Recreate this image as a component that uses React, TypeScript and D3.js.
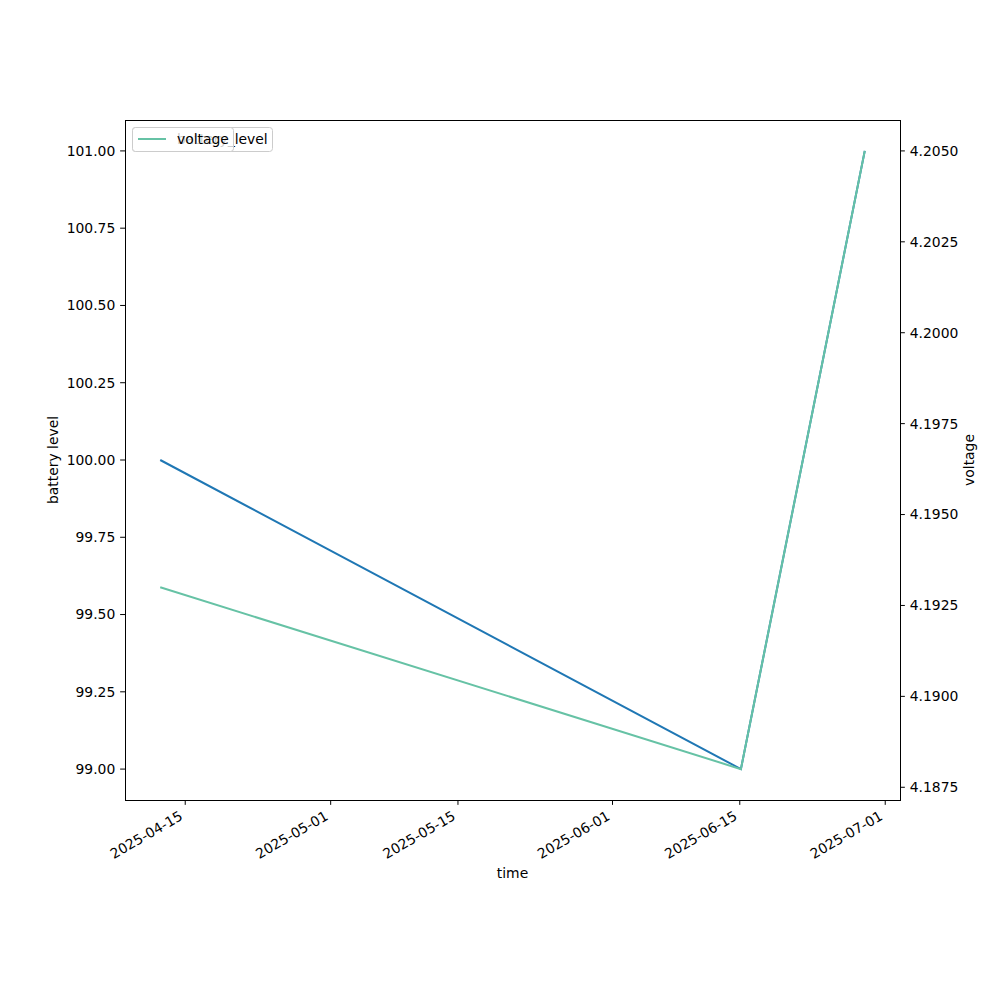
import React from "react";
import * as d3 from "d3";

const times = ["2025-04-12T06:00:00Z", "2025-06-15T03:00:00Z", "2025-06-28T18:00:00Z"];
const batteryLevel = [100, 99, 101];
const voltage = [4.193, 4.188, 4.205];
const xTickLabels = ["2025-04-15", "2025-05-01", "2025-05-15", "2025-06-01", "2025-06-15", "2025-07-01"];
const leftTicks = [99.0, 99.25, 99.5, 99.75, 100.0, 100.25, 100.5, 100.75, 101.0];
const rightTicks = [4.1875, 4.19, 4.1925, 4.195, 4.1975, 4.2, 4.2025, 4.205];

const W = 1000, H = 1000;
const L = 125, R = 900, T = 120, B = 800;
const FONT = "DejaVu Sans";
const FS = 13.9;
const BLUE = "#1f77b4";
const TEAL = "#66c2a5";

export default function App() {
  const dates = times.map((t) => new Date(t));
  const [dmin, dmax] = d3.extent(dates) as [Date, Date];
  const span = dmax.getTime() - dmin.getTime();
  const x = d3
    .scaleUtc()
    .domain([new Date(dmin.getTime() - span * 0.05), new Date(dmax.getTime() + span * 0.05)])
    .range([L, R]);
  const bmin = d3.min(batteryLevel)!, bmax = d3.max(batteryLevel)!;
  const bpad = (bmax - bmin) * 0.05;
  const yL = d3.scaleLinear().domain([bmin - bpad, bmax + bpad]).range([B, T]);
  const vmin = d3.min(voltage)!, vmax = d3.max(voltage)!;
  const vpad = (vmax - vmin) * 0.05;
  const yR = d3.scaleLinear().domain([vmin - vpad, vmax + vpad]).range([B, T]);

  const lineB = d3
    .line<number>()
    .x((_, i) => x(dates[i]))
    .y((d) => yL(d));
  const lineV = d3
    .line<number>()
    .x((_, i) => x(dates[i]))
    .y((d) => yR(d));

  const tickLen = 4.86;
  const pad = 4.86;
  const asc = 10.5;
  const desc = 3;

  return (
    <svg
      width={W}
      height={H}
      style={{ position: "absolute", left: 0, top: 0, background: "#fff" }}
      fontFamily={FONT}
      fontSize={FS}
    >
      <rect x={0} y={0} width={W} height={H} fill="#fff" />
      {/* lines */}
      <path d={lineB(batteryLevel)!} fill="none" stroke={BLUE} strokeWidth={2} />
      <path d={lineV(voltage)!} fill="none" stroke={TEAL} strokeWidth={2} />

      {/* frame */}
      <rect x={L + 0.5} y={T + 0.5} width={R - L} height={B - T} fill="none" stroke="#000" strokeWidth={1} />

      {/* x ticks */}
      {xTickLabels.map((s) => {
        const tx = x(new Date(s + "T00:00:00Z"));
        const ty = B + tickLen + pad;
        return (
          <g key={s}>
            <line x1={tx} x2={tx} y1={B} y2={B + tickLen} stroke="#000" />
            <text
              transform={`translate(${tx - 0.5 * desc},${ty + 0.866 * asc}) rotate(-30)`}
              textAnchor="end"
            >
              {s}
            </text>
          </g>
        );
      })}
      <text x={(L + R) / 2} y={878} textAnchor="middle">
        time
      </text>

      {/* left ticks */}
      {leftTicks.map((v) => (
        <g key={"l" + v}>
          <line x1={L - tickLen} x2={L} y1={yL(v)} y2={yL(v)} stroke="#000" />
          <text x={L - tickLen - pad} y={yL(v)} dy="0.35em" textAnchor="end">
            {v.toFixed(2)}
          </text>
        </g>
      ))}
      <text transform={`translate(58,${(T + B) / 2}) rotate(-90)`} textAnchor="middle">
        battery level
      </text>

      {/* right ticks */}
      {rightTicks.map((v) => (
        <g key={"r" + v}>
          <line x1={R} x2={R + tickLen} y1={yR(v)} y2={yR(v)} stroke="#000" />
          <text x={R + tickLen + pad} y={yR(v)} dy="0.35em" textAnchor="start">
            {v.toFixed(4)}
          </text>
        </g>
      ))}
      <text transform={`translate(974,${(T + B) / 2}) rotate(-90)`} textAnchor="middle">
        voltage
      </text>

      {/* back legend: battery_level */}
      <g>
        <rect x={132.5} y={127.5} width={140} height={24} rx={3} fill="#fff" fillOpacity={0.8} stroke="#ccc" />
        <line x1={138} x2={166} y1={139} y2={139} stroke={BLUE} strokeWidth={2} />
        <text x={177} y={143.8}>battery_level</text>
      </g>
      {/* front legend: voltage */}
      <g>
        <rect x={132.5} y={127.5} width={101} height={24} rx={3} fill="#fff" fillOpacity={0.8} stroke="#ccc" />
        <line x1={138} x2={166} y1={139} y2={139} stroke={TEAL} strokeWidth={2} />
        <text x={177} y={143.8}>voltage</text>
      </g>
    </svg>
  );
}
